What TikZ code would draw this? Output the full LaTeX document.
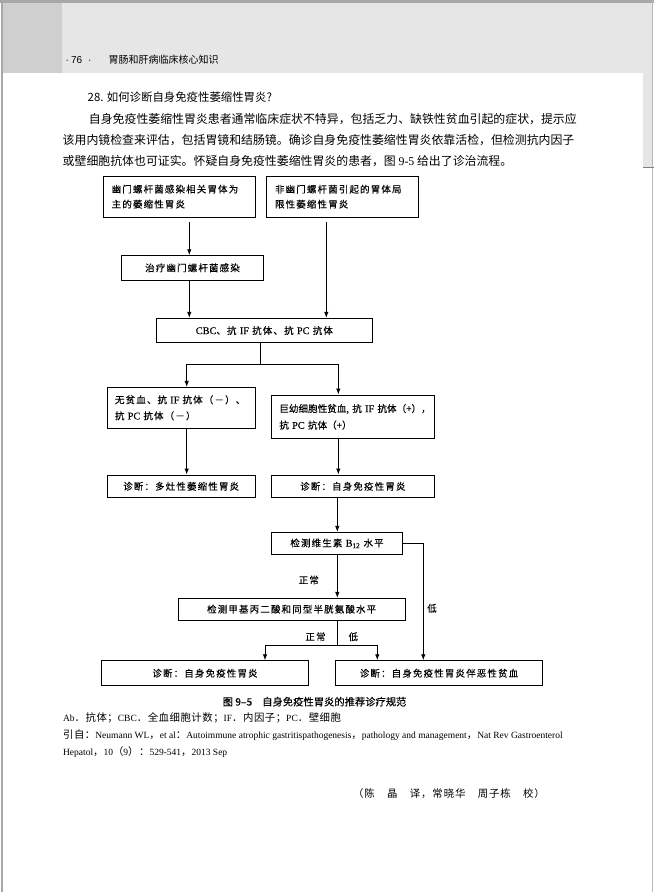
\documentclass[tikz,border=0pt]{standalone}
\usepackage{fontspec}
\setmainfont{Noto Sans CJK SC}
\newfontfamily\lat{Liberation Serif}
\newfontfamily\latb[FakeBold=0.15]{Liberation Serif}
\newfontfamily\las{Liberation Sans}
\newfontfamily\bxf[LetterSpace=12, FakeBold=0.15]{Noto Sans CJK SC}
\newfontfamily\bxg[FakeBold=0.15]{Noto Sans CJK SC}
\newfontfamily\ntf[LetterSpace=5]{Noto Sans CJK SC}
\newfontfamily\trf[LetterSpace=9]{Noto Sans CJK SC}
\newfontfamily\capf[FakeBold=0.3]{Noto Sans CJK SC}
\usetikzlibrary{arrows.meta}
\definecolor{hdr}{HTML}{E6E6E6}
\definecolor{strip}{HTML}{CFCFCF}
\definecolor{edge}{HTML}{A8A8A8}
\newcommand\lt[1]{{\lat\fontsize{9.5}{10}\selectfont #1}}
\newcommand\lb[1]{{\latb\fontsize{10.3}{10}\selectfont #1}}
\begin{document}
\begin{tikzpicture}[x=1pt,y=-1pt,
  box/.style={draw, line width=0.9pt, inner sep=0pt, font=\bxf\fontsize{9.5}{15}\selectfont},
  arr/.style={line width=0.9pt, -{Latex[length=6pt,width=4.5pt]}},
  ln/.style={line width=0.9pt},
  lbl/.style={inner sep=0pt, font=\bxf\fontsize{9.5}{12}\selectfont},
  txt/.style={inner sep=0pt, anchor=west}]
\useasboundingbox (0,0) rectangle (654,892);
\fill[white] (0,0) rectangle (654,892);
% page decorations
\fill[hdr] (3,3) rectangle (652,73);
\fill[strip] (3,3) rectangle (62,73);
\fill[hdr] (643,73) rectangle (652,167);
\fill[edge] (0,0) rectangle (654,3);
\draw[edge, line width=1.2pt] (2,0) -- (2,892);
\draw[edge!80, line width=1pt] (652,0) -- (652,892);
\draw[gray, line width=0.8pt] (643,167) -- (654,167);
% header
\node[txt] (pg) at (65.5,60) {\las\fontsize{10}{11}\selectfont ·\hspace{2pt}76\hspace{6pt}·};
\node[txt, font=\fontsize{10}{11}\selectfont] (bk) at (108.3,60) {胃肠和肝病临床核心知识};
% title and paragraph
\node[txt, font=\fontsize{11.4}{13}\selectfont] (q) at (87.5,97) {28. 如何诊断自身免疫性萎缩性胃炎?};
\node[txt, font=\fontsize{11.9}{13}\selectfont] (p1) at (88.7,119.3) {自身免疫性萎缩性胃炎患者通常临床症状不特异，包括乏力、缺铁性贫血引起的症状，提示应};
\node[txt, font=\fontsize{11.9}{13}\selectfont] (p2) at (62.5,140.3) {该用内镜检查来评估，包括胃镜和结肠镜。确诊自身免疫性萎缩性胃炎依靠活检，但检测抗内因子};
\node[txt, font=\fontsize{11.9}{13}\selectfont] (p3) at (62.5,160.7) {或壁细胞抗体也可证实。怀疑自身免疫性萎缩性胃炎的患者，图 {\lat 9-5} 给出了诊治流程。};
% boxes
\node[box, minimum width=152.4pt, minimum height=41.3pt, text width=135.6pt, align=left] (A) at (179.5,196.65) {幽门螺杆菌感染相关胃体为\\主的萎缩性胃炎};
\node[box, minimum width=151.6pt, minimum height=41.3pt, text width=135pt, align=left] (B) at (342.5,196.65) {非幽门螺杆菌引起的胃体局\\限性萎缩性胃炎};
\node[box, minimum width=141.6pt, minimum height=24.3pt] (C) at (192.5,267.85) {治疗幽门螺杆菌感染};
\node[box, minimum width=216.7pt, minimum height=24.4pt] (D) at (264.35,330.5) {\lb{CBC}、抗~\lb{IF}~抗体、抗~\lb{PC}~抗体};
\node[box, minimum width=147.7pt, minimum height=41pt, text width=132.3pt, align=left, font=\bxf\fontsize{9.5}{16}\selectfont] (E) at (181.15,407.8) {无贫血、抗~\lb{IF}~抗体（－）、\\抗~\lb{PC}~抗体（－）};
\node[box, minimum width=162.3pt, minimum height=43.7pt, text width=147.1pt, align=left, font=\bxg\fontsize{9.6}{16.6}\selectfont] (F) at (352.85,416.85) {巨幼细胞性贫血\lb{,}~抗~\lb{IF}~抗体（+），\\抗~\lb{PC}~抗体（+）};
\node[box, minimum width=147.7pt, minimum height=22.7pt] (G) at (181.15,486.35) {诊断：多灶性萎缩性胃炎};
\node[box, minimum width=162.3pt, minimum height=22.7pt] (H) at (352.85,486.35) {诊断：自身免疫性胃炎};
\node[box, minimum width=130.6pt, minimum height=22pt] (I) at (337,543.3) {检测维生素~\lb{B\textsubscript{12}}~水平};
\node[box, minimum width=226.7pt, minimum height=21.7pt] (J) at (291.65,609.15) {检测甲基丙二酸和同型半胱氨酸水平};
\node[box, minimum width=206.6pt, minimum height=25pt] (L) at (205,673.2) {诊断：自身免疫性胃炎};
\node[box, minimum width=206.6pt, minimum height=25pt] (K) at (439,673.2) {诊断：自身免疫性胃炎伴恶性贫血};
% connector coordinates
\coordinate (x1) at (189.3,0);
\coordinate (x2) at (326.3,0);
\coordinate (xd) at (260.7,0);
\coordinate (x3) at (186.7,0);
\coordinate (x4) at (338.3,0);
\coordinate (ys1) at (0,364.3);
\coordinate (x5) at (337.3,0);
\coordinate (x6) at (423.3,0);
\coordinate (ys2) at (0,645);
\coordinate (x7) at (265,0);
\coordinate (x8) at (377.3,0);
% connectors
\draw[arr, shorten <=4.4pt] (A.south -| x1) -- (C.north -| x1);
\draw[arr] (C.south -| x1) -- (D.north -| x1);
\draw[arr, shorten <=4.4pt] (B.south -| x2) -- (D.north -| x2);
\draw[ln] (D.south -| xd) -- (xd |- ys1);
\draw[arr] (xd |- ys1) -| (E.north -| x3);
\draw[arr] (xd |- ys1) -| (F.north -| x4);
\draw[arr] (E.south -| x3) -- (G.north -| x3);
\draw[arr] (F.south -| x4) -- (H.north -| x4);
\draw[arr] (H.south -| x5) -- (I.north -| x5);
\draw[arr] (I.south -| x5) -- (J.north -| x5);
\draw[arr] (I.east) -| (K.north -| x6);
\draw[ln] (J.south -| x5) -- (x5 |- ys2);
\draw[arr] (x5 |- ys2) -| (L.north -| x7);
\draw[arr] (x5 |- ys2) -| (K.north -| x8);
% edge labels
\node[lbl] (l1) at (308.8,580) {正常};
\node[lbl] (l2) at (432,608.3) {低};
\node[lbl] (l3) at (315.5,636.7) {正常};
\node[lbl] (l4) at (353.3,636.7) {低};
% caption and notes
\node[txt, font=\capf\fontsize{10.3}{12}\selectfont] (cap) at (222.5,701.7) {图 9–5\hspace{10pt}自身免疫性胃炎的推荐诊疗规范};
\node[txt, font=\ntf\fontsize{10.4}{12}\selectfont] (n1) at (62.9,717.7) {\lt{Ab}．抗体；\lt{CBC}．全血细胞计数；\lt{IF}．内因子；\lt{PC}．壁细胞};
\node[txt, font=\ntf\fontsize{10.4}{12}\selectfont] (n2) at (62.9,735) {引自：\lt{Neumann WL}，\lt{et al}：\lt{Autoimmune atrophic gastritispathogenesis}，\lt{pathology and management}，\lt{Nat Rev Gastroenterol}};
\node[txt, font=\ntf\fontsize{10.4}{12}\selectfont] (n3) at (62.9,751.7) {\lt{Hepatol}，\lt{10}（\lt{9}）：\lt{529-541}，\lt{2013 Sep}};
\node[txt, font=\trf\fontsize{10.4}{12}\selectfont] (tr) at (352.9,793.3) {（陈　晶　译，常晓华　周子栋　校）};
\end{tikzpicture}
\end{document}
